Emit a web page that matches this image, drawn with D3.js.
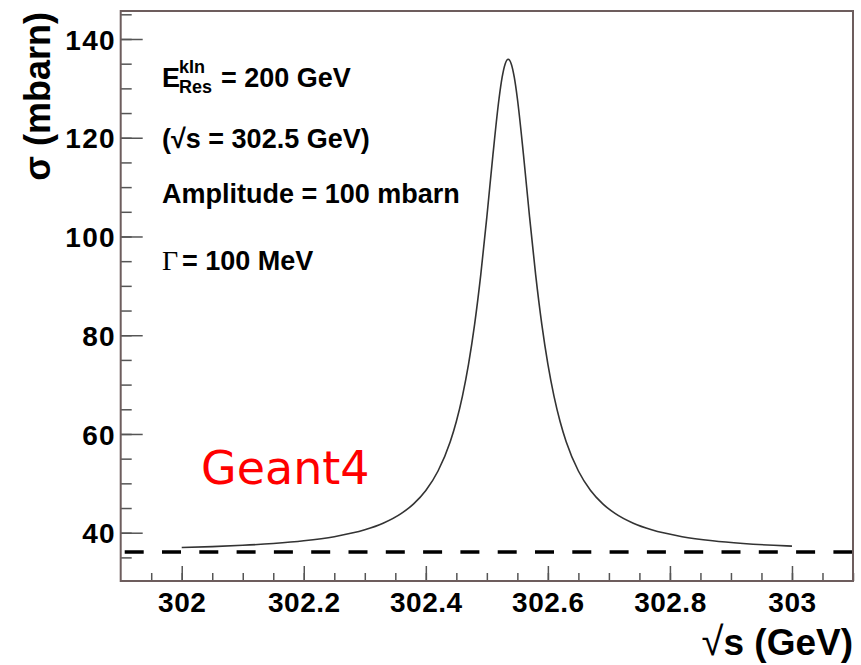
<!DOCTYPE html>
<html>
<head>
<meta charset="utf-8">
<script src="https://cdn.jsdelivr.net/npm/d3@7"></script>
<style>
  html, body { margin: 0; padding: 0; background: #fff; }
  svg { display: block; }
  .bold { font-family: "Liberation Sans", Arial, Helvetica, sans-serif; font-weight: bold; }
</style>
</head>
<body>
<svg id="chart" width="861" height="665"></svg>
<script>
// ---- data ----
const sqrtS = [302.00, 302.05, 302.10, 302.15, 302.20, 302.25, 302.30, 302.33, 302.36, 302.38,
               302.40, 302.42, 302.44, 302.45, 302.46, 302.47, 302.48, 302.49, 302.50, 302.51,
               302.52, 302.525, 302.53, 302.535, 302.54, 302.545, 302.55, 302.56, 302.57, 302.58,
               302.59, 302.60, 302.61, 302.62, 302.63, 302.65, 302.67, 302.69, 302.71, 302.74,
               302.77, 302.82, 302.87, 302.92, 302.97, 303.00];
const sigma  = [37.00, 37.19, 37.45, 37.82, 38.36, 39.20, 40.59, 41.92, 43.91, 45.85,
                48.56, 52.50, 58.43, 62.52, 67.66, 74.13, 82.24, 92.21, 103.95, 116.57,
                127.95, 132.21, 134.95, 135.90, 134.95, 132.21, 127.95, 116.57, 103.95, 92.21,
                82.24, 74.13, 67.66, 62.52, 58.43, 52.50, 48.56, 45.85, 43.91, 41.92,
                40.59, 39.20, 38.36, 37.82, 37.45, 37.29];
const backgroundLevel = 36.1;
const xTickValues = [302.0, 302.2, 302.4, 302.6, 302.8, 303.0];
const xTickLabels = ["302", "302.2", "302.4", "302.6", "302.8", "303"];
const yTickValues = [40, 60, 80, 100, 120, 140];
const xDomain = [301.9, 303.1];
const yDomain = [30.22, 145.67];
const annotations = ["= 200 GeV", "(\u221As = 302.5 GeV)", "Amplitude = 100 mbarn", "= 100 MeV"];

// ---- layout ----
const L = 120.7, R = 853, T = 11, B = 581;
const svg = d3.select("#chart");
const x = d3.scaleLinear().domain(xDomain).range([L, R]);
const y = d3.scaleLinear().domain(yDomain).range([B, T]);

const tickColor = "#555";

// minor ticks
const xMinor = d3.range(301.95, 303.1, 0.05).filter(v => v > xDomain[0] && v < xDomain[1]);
const yMinor = d3.range(35, 146, 5).filter(v => v > yDomain[0] && v < yDomain[1]);

// x axis
const xAxisMinor = d3.axisBottom(x).tickValues(xMinor).tickSize(-8).tickFormat("");
const xAxisMajor = d3.axisBottom(x).tickValues(xTickValues).tickSize(-15).tickPadding(29)
  .tickFormat((d, i) => xTickLabels[i]);
const gxm = svg.append("g").attr("transform", `translate(0,${B})`).call(xAxisMinor);
const gx = svg.append("g").attr("transform", `translate(0,${B})`).call(xAxisMajor);
[gxm, gx].forEach(g => {
  g.select(".domain").remove();
  g.selectAll("line").attr("stroke", tickColor).attr("stroke-width", 1.5);
});
gx.selectAll("text").attr("class", "bold").attr("font-size", 28).attr("fill", "#000")
  .attr("dy", null).attr("y", 31).attr("letter-spacing", 0.5);

// y axis
const yAxisMinor = d3.axisLeft(y).tickValues(yMinor).tickSize(-11).tickFormat("");
const yAxisMajor = d3.axisLeft(y).tickValues(yTickValues).tickSize(-22).tickPadding(28);
const gym = svg.append("g").attr("transform", `translate(${L},0)`).call(yAxisMinor);
const gy = svg.append("g").attr("transform", `translate(${L},0)`).call(yAxisMajor);
[gym, gy].forEach(g => {
  g.select(".domain").remove();
  g.selectAll("line").attr("stroke", tickColor).attr("stroke-width", 1.5);
});
gy.selectAll("text").attr("class", "bold").attr("font-size", 28).attr("fill", "#000")
  .attr("x", -5).attr("dy", "0.36em").attr("letter-spacing", 1.2);

// background dashed line
svg.append("line")
  .attr("x1", x(xDomain[0]) + 4).attr("x2", R)
  .attr("y1", y(backgroundLevel)).attr("y2", y(backgroundLevel))
  .attr("stroke", "#000").attr("stroke-width", 3.5)
  .attr("stroke-dasharray", "19,18.3");

// resonance curve
const pts = sqrtS.map((s, i) => [s, sigma[i]]);
svg.append("path")
  .datum(pts)
  .attr("fill", "none")
  .attr("stroke", "#333")
  .attr("stroke-width", 1.6)
  .attr("d", d3.line().x(d => x(d[0])).y(d => y(d[1])).curve(d3.curveMonotoneX));

// frame
svg.append("rect")
  .attr("x", L).attr("y", T).attr("width", R - L).attr("height", B - T)
  .attr("fill", "none").attr("stroke", "#6d5d5d").attr("stroke-width", 2);

// axis titles
svg.append("text").attr("class", "bold")
  .attr("transform", "translate(50,12) rotate(-90)")
  .attr("text-anchor", "end").attr("font-size", 36)
  .text("\u03C3 (mbarn)");
const xt = svg.append("text").attr("class", "bold")
  .attr("x", 853).attr("y", 655)
  .attr("text-anchor", "end").attr("font-size", 37);
xt.append("tspan").attr("font-weight", "normal").attr("font-size", 40).text("\u221A");
xt.append("tspan").text("s (GeV)");

// annotations
const ax = 162;
svg.append("text").attr("class", "bold").attr("x", ax).attr("y", 87).attr("font-size", 27).text("E");
svg.append("text").attr("class", "bold").attr("x", 179).attr("y", 73).attr("font-size", 18).text("kIn");
svg.append("text").attr("class", "bold").attr("x", 179).attr("y", 93).attr("font-size", 18).text("Res");
svg.append("text").attr("class", "bold").attr("x", 221).attr("y", 87).attr("font-size", 27).text(annotations[0]);
svg.append("text").attr("class", "bold").attr("x", ax).attr("y", 148).attr("font-size", 27).text(annotations[1]);
svg.append("text").attr("class", "bold").attr("x", ax).attr("y", 203).attr("font-size", 27).text(annotations[2]);
svg.append("text").attr("x", ax).attr("y", 270).attr("font-size", 28)
  .attr("font-family", "'Liberation Serif', 'DejaVu Serif', serif").text("\u0393");
svg.append("text").attr("class", "bold").attr("x", ax + 20).attr("y", 270).attr("font-size", 27).text(annotations[3]);

// Geant4 label
svg.append("text").attr("x", 201).attr("y", 484)
  .attr("font-family", "'DejaVu Sans', Verdana, sans-serif").attr("font-size", 46)
  .attr("fill", "#ff0000").text("Geant4");
</script>
</body>
</html>
